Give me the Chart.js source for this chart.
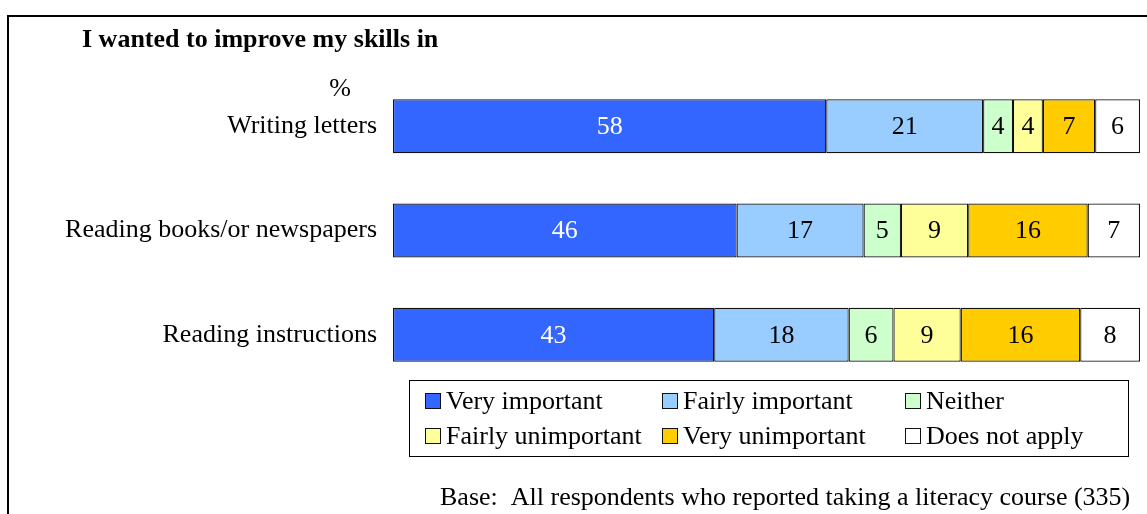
<!DOCTYPE html>
<html>
<head>
<meta charset="utf-8">
<script src="https://cdn.jsdelivr.net/npm/chart.js@4/dist/chart.umd.min.js"></script>
<style>
  html, body { margin: 0; padding: 0; background: #fff; }
  #wrap { position: relative; width: 1147px; height: 514px; }
</style>
</head>
<body>
<div id="wrap"><canvas id="skillsChart" width="1147" height="514"></canvas></div>
<script>
// Survey answers, percent of respondents
const categories = ['Writing letters', 'Reading books/or newspapers', 'Reading instructions'];
const responseLabels = ['Very important', 'Fairly important', 'Neither', 'Fairly unimportant', 'Very unimportant', 'Does not apply'];
const veryImportant = [58, 46, 43];
const fairlyImportant = [21, 17, 18];
const neither = [4, 5, 6];
const fairlyUnimportant = [4, 9, 9];
const veryUnimportant = [7, 16, 16];
const doesNotApply = [6, 7, 8];

const seriesValues = [veryImportant, fairlyImportant, neither, fairlyUnimportant, veryUnimportant, doesNotApply];
const fillColors = ['#3366FF', '#99CCFF', '#CCFFCC', '#FFFF99', '#FFCC00', '#FFFFFF'];
const labelColors = ['#FFFFFF', '#000000', '#000000', '#000000', '#000000', '#000000'];

const serif = '"Liberation Serif", "Times New Roman", serif';

const datasets = seriesValues.map((values, i) => ({
  label: responseLabels[i],
  data: values,
  backgroundColor: fillColors[i],
  borderColor: '#111',
  borderWidth: 1.2,
  borderSkipped: false,
  categoryPercentage: 1,
  barPercentage: 0.517
}));

// frame, headings and footnote
const decorations = {
  id: 'decorations',
  beforeDraw(chart) {
    const ctx = chart.ctx;
    ctx.save();
    ctx.fillStyle = '#fff';
    ctx.fillRect(0, 0, chart.width, chart.height);
    ctx.strokeStyle = '#000';
    ctx.lineWidth = 2;
    ctx.beginPath();
    ctx.moveTo(8, chart.height);
    ctx.lineTo(8, 16);
    ctx.lineTo(chart.width, 16);
    ctx.stroke();

    ctx.fillStyle = '#000';
    ctx.textBaseline = 'middle';
    ctx.font = 'bold 26px ' + serif;
    ctx.textAlign = 'left';
    ctx.fillText('I wanted to improve my skills in', 82, 40);
    ctx.font = '26px ' + serif;
    ctx.textAlign = 'center';
    ctx.fillText('%', 340, 89);
    ctx.textAlign = 'left';
    ctx.fillText('Base:  All respondents who reported taking a literacy course (335)', 440, 498);
    ctx.restore();
  }
};

// numbers inside each segment
const segmentLabels = {
  id: 'segmentLabels',
  afterDatasetsDraw(chart) {
    const ctx = chart.ctx;
    ctx.save();
    ctx.font = '26px ' + serif;
    ctx.textAlign = 'center';
    ctx.textBaseline = 'middle';
    chart.data.datasets.forEach((ds, i) => {
      chart.getDatasetMeta(i).data.forEach((bar, j) => {
        const p = bar.getProps(['x', 'y', 'base'], true);
        ctx.fillStyle = labelColors[i];
        ctx.fillText(String(ds.data[j]), (p.x + p.base) / 2, p.y + 1);
      });
    });
    ctx.restore();
  }
};

// boxed legend, three columns by two rows
const boxedLegend = {
  id: 'boxedLegend',
  afterDraw(chart) {
    const ctx = chart.ctx;
    ctx.save();
    ctx.fillStyle = '#fff';
    ctx.fillRect(409, 380, 719, 76);
    ctx.strokeStyle = '#000';
    ctx.lineWidth = 1;
    ctx.strokeRect(409.5, 380.5, 719, 76);
    const cols = [425, 662, 905];
    const rows = [401, 436];
    ctx.font = '26px ' + serif;
    ctx.textBaseline = 'middle';
    ctx.textAlign = 'left';
    chart.data.datasets.forEach((ds, i) => {
      const x = cols[i % 3];
      const y = rows[Math.floor(i / 3)];
      ctx.fillStyle = ds.backgroundColor;
      ctx.fillRect(x, y - 8, 16, 16);
      ctx.strokeStyle = '#111';
      ctx.strokeRect(x + 0.5, y - 7.5, 15, 15);
      ctx.fillStyle = '#000';
      ctx.fillText(ds.label, x + 21, y + 1);
    });
    ctx.restore();
  }
};

new Chart(document.getElementById('skillsChart'), {
  type: 'bar',
  data: { labels: categories, datasets: datasets },
  options: {
    indexAxis: 'y',
    responsive: false,
    animation: false,
    layout: { padding: { left: 0, right: 7, top: 74, bottom: 127 } },
    plugins: {
      legend: { display: false },
      tooltip: { enabled: false }
    },
    scales: {
      x: {
        stacked: true,
        min: 0,
        max: 100,
        display: false
      },
      y: {
        stacked: true,
        grid: { display: false },
        border: { display: false },
        ticks: {
          color: '#000',
          padding: 8,
          font: { family: serif, size: 26 }
        },
        afterFit(scale) { scale.width = 393; }
      }
    }
  },
  plugins: [decorations, segmentLabels, boxedLegend]
});
</script>
</body>
</html>
